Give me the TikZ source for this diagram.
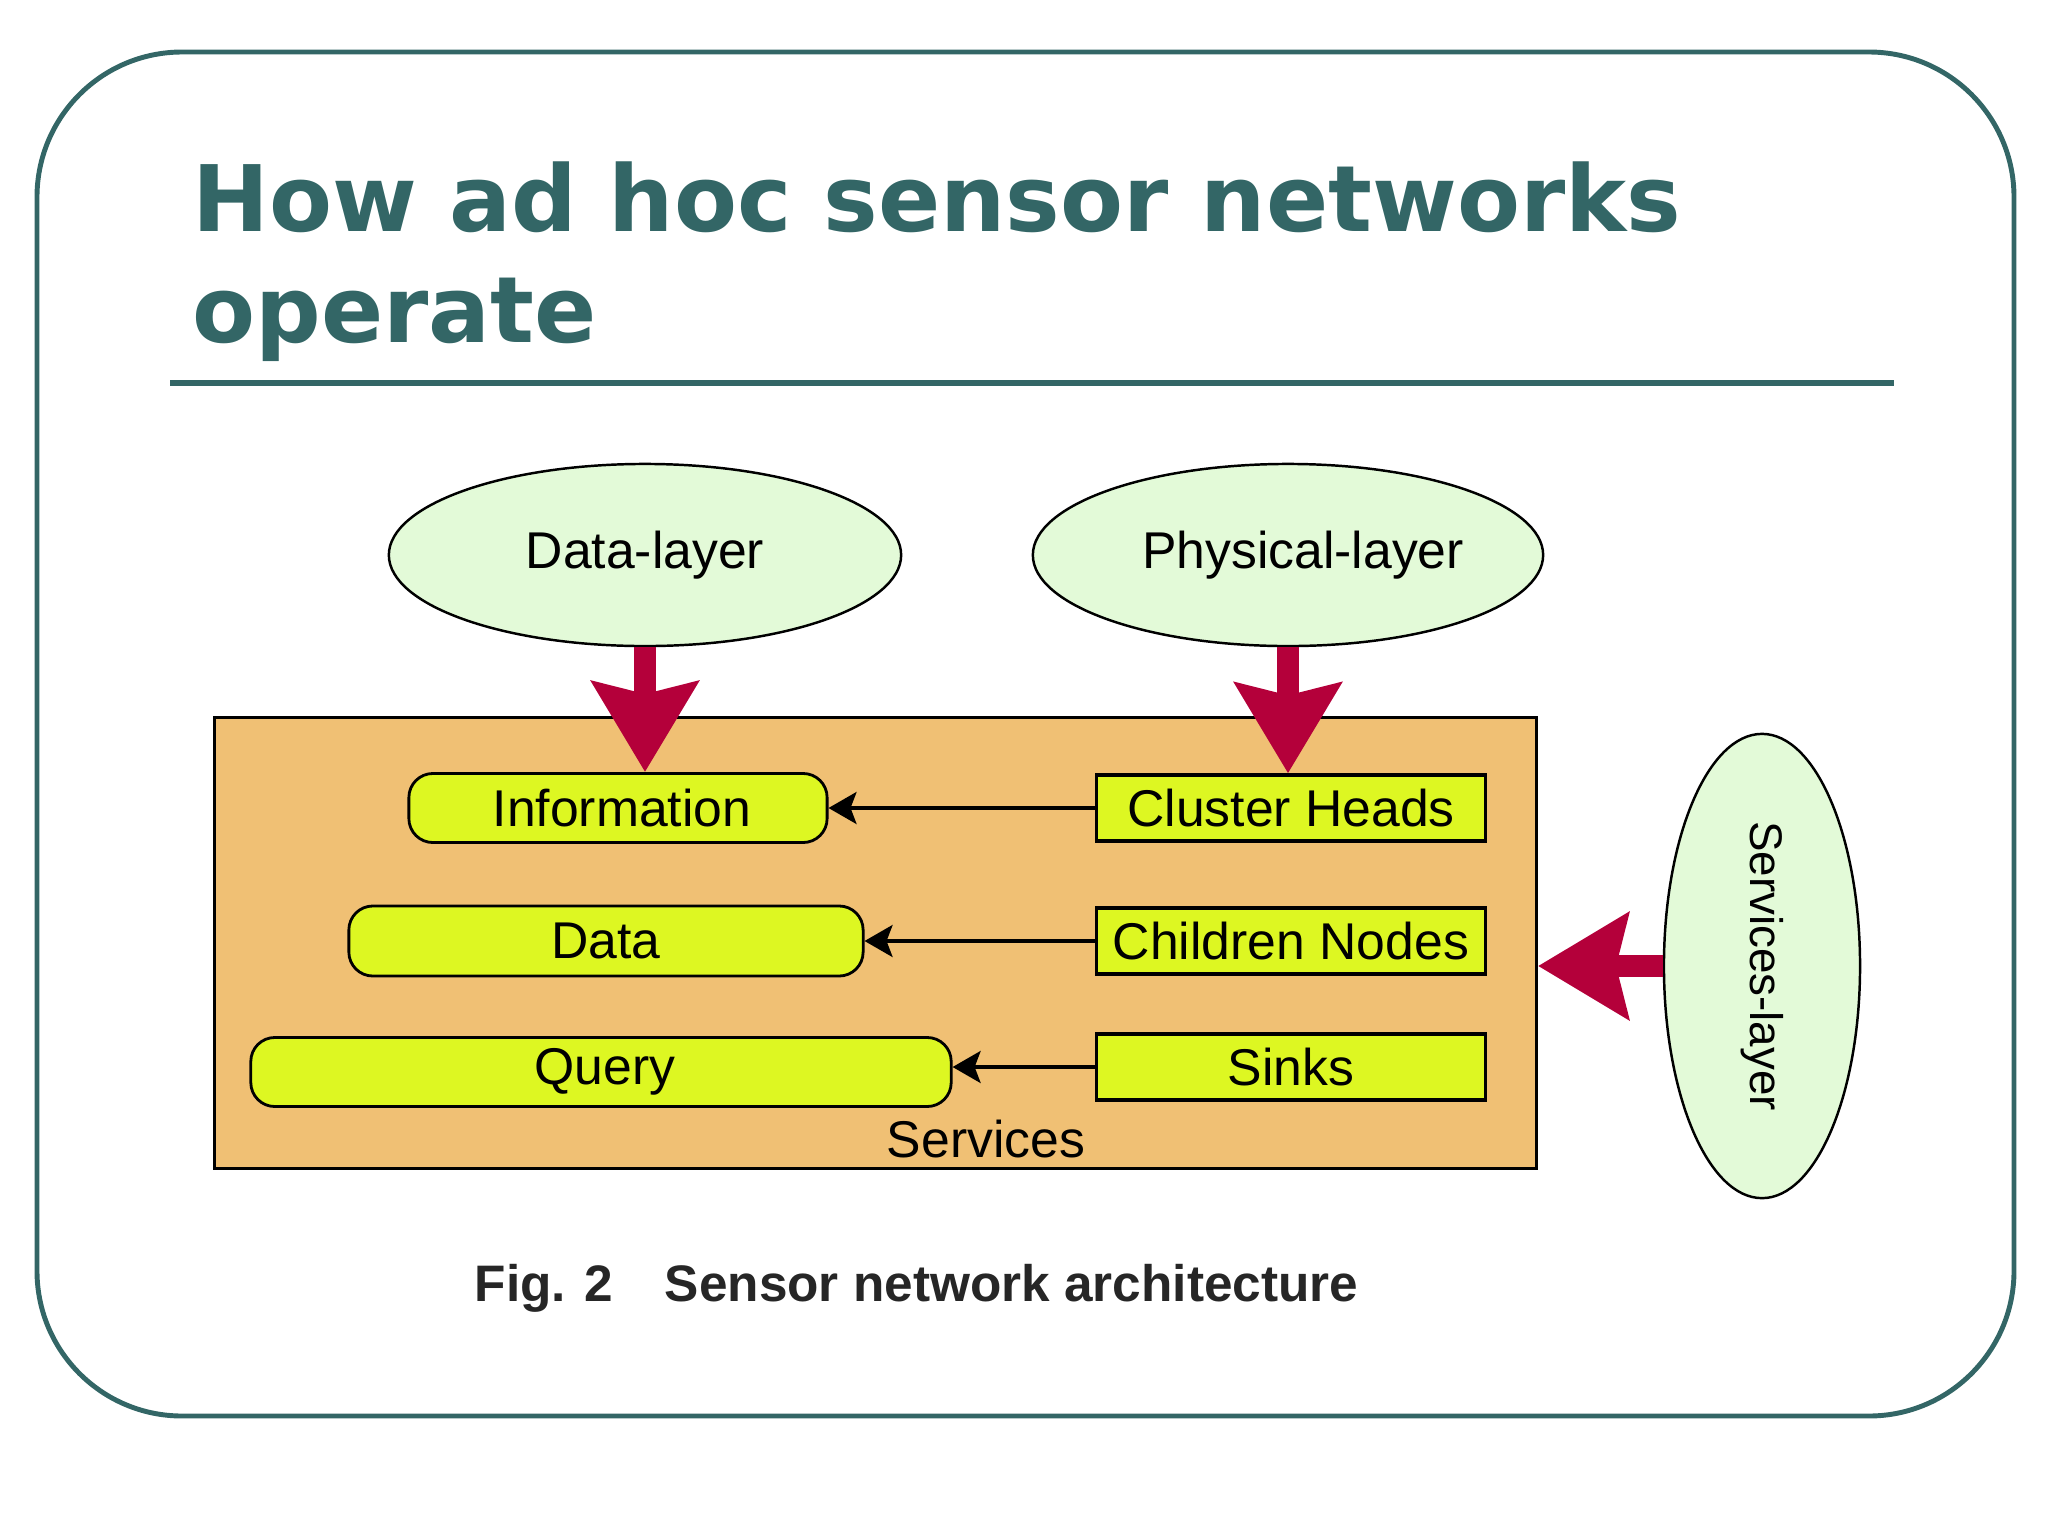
\documentclass[tikz,border=0pt]{standalone}
\usepackage{fontspec}
\usepackage{graphicx}
\setmainfont{Liberation Sans}
\newfontfamily\titlefont{DejaVu Sans}
\usetikzlibrary{shapes.geometric,arrows.meta}

\definecolor{slateteal}{HTML}{336666}
\definecolor{layergreen}{HTML}{E3FAD8}
\definecolor{boxlime}{HTML}{DDF722}
\definecolor{servorange}{HTML}{F0C074}
\definecolor{arrowred}{HTML}{B4003A}
\definecolor{captiongray}{HTML}{262626}

\tikzset{
  labelfont/.style={font=\fontsize{14.7}{17}\selectfont},
  layer/.style={ellipse, draw=black, line width=0.7pt, fill=layergreen, inner sep=0pt, labelfont},
  roundbox/.style={draw=black, line width=0.8pt, fill=boxlime, rounded corners=0.24cm, inner sep=0pt, labelfont},
  squarebox/.style={draw=black, line width=0.9pt, fill=boxlime, inner sep=0pt,
    minimum width=3.88cm, minimum height=0.66cm, labelfont},
  bigarrow/.style={draw=arrowred, line width=6.2pt, -{Stealth[length=0.9cm, width=1.05cm, inset=0.12cm]}},
  smallarrow/.style={draw=black, line width=0.9pt, -{Stealth[length=0.28cm, width=0.32cm, inset=0.06cm]}},
}

\begin{document}
\begin{tikzpicture}[x=0.01cm, y=-0.01cm]
    \useasboundingbox (0,0) rectangle (2048,1536);
    % slide frame and heading
    \draw[slateteal, line width=1.4pt, rounded corners=1.45cm] (37,52) rectangle (2014,1416);
    \node[anchor=base west, inner sep=0pt, text=slateteal, font=\titlefont\bfseries\fontsize{26.1}{30}\selectfont] (title1) at (192,231) {How ad hoc sensor networks};
    \node[anchor=base west, inner sep=0pt, text=slateteal, font=\titlefont\bfseries\fontsize{26.1}{30}\selectfont] (title2) at (192,342) {operate};
    \draw[slateteal, line width=1.85pt] (170,383) -- (1894,383);

    % layers
    \node[layer, minimum width=5.12cm, minimum height=1.82cm] (dl) at (645,555) {Data-layer};
    \node[layer, minimum width=5.10cm, minimum height=1.82cm] (pl) at (1288,555) {\hspace{0.3cm}Physical-layer};
    \node[layer, minimum width=1.96cm, minimum height=4.64cm] (sl) at (1762,966) {\rotatebox{-90}{\fontsize{13}{15}\selectfont Services-layer}};

    % services block
    \node[draw=black, line width=0.9pt, fill=servorange, inner sep=0pt, minimum width=13.21cm, minimum height=4.50cm] (srv) at (875.5,943) {};
    \node[labelfont, inner sep=0pt] (srvlabel) at (986,1139) {Services};

    \node[roundbox, minimum width=4.18cm, minimum height=0.69cm] (info) at (618,808) {\hspace{0.08cm}Information};
    \node[roundbox, minimum width=5.14cm, minimum height=0.70cm] (data) at (606,941) {Data};
    \node[roundbox, minimum width=7.00cm, minimum height=0.69cm] (query) at (601,1072) {\hspace{0.08cm}Query};
    \node[squarebox] (ch) at (1291,808) {Cluster Heads};
    \node[squarebox] (cn) at (1291,941) {Children Nodes};
    \node[squarebox] (sk) at (1291,1067) {Sinks};

    \foreach \src/\dst in {ch/info, cn/data, sk/query} {
        \draw[smallarrow] (\src.west) -- (\src.west -| \dst.east);
    }

    \draw[bigarrow] (dl.south) -- (dl.south |- info.north);
    \draw[bigarrow] (pl.south) -- (pl.south |- ch.north);
    \draw[bigarrow] (sl.west) -- (sl.west -| srv.east);

    \node[anchor=base west, inner sep=0pt, text=captiongray, font=\bfseries\fontsize{14.6}{17}\selectfont] (caption) at (474,1301) {Fig. 2\hspace{1em}Sensor network architecture};
\end{tikzpicture}
\end{document}
